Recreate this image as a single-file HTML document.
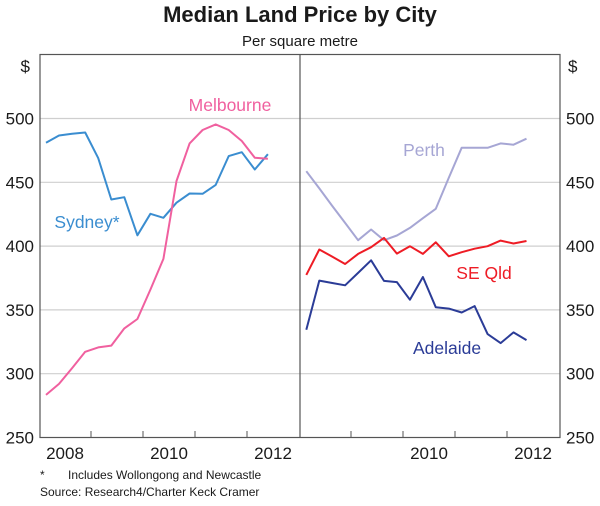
<!DOCTYPE html>
<html><head><meta charset="utf-8"><style>
body{margin:0;background:#fff;}
svg text{font-family:"Liberation Sans",Arial,sans-serif;}
</style></head><body>
<svg id="chart" width="600" height="501" viewBox="0 0 600 501" xmlns="http://www.w3.org/2000/svg">
<text x="300" y="22" text-anchor="middle" font-size="22" font-weight="bold" fill="#1a1a1a">Median Land Price by City</text>
<text x="300" y="46" text-anchor="middle" font-size="15" fill="#1a1a1a">Per square metre</text>
<text x="30" y="72" text-anchor="end" font-size="17" fill="#1a1a1a">$</text>
<text x="568" y="72" font-size="17" fill="#1a1a1a">$</text>
<g id="grid"></g>
<g id="series"></g>
<rect x="40" y="54.5" width="520" height="383" fill="none" stroke="#555" stroke-width="1.2"/>
<line x1="300" y1="54.5" x2="300" y2="437.5" stroke="#555" stroke-width="1.2"/>
<g id="axes"></g>
<text x="230" y="111" text-anchor="middle" font-size="17.5" fill="#f0609f">Melbourne</text>
<text x="87" y="228" text-anchor="middle" font-size="17.5" fill="#3a8dd0">Sydney*</text>
<text x="424" y="156" text-anchor="middle" font-size="17.5" fill="#a6a6d4">Perth</text>
<text x="484" y="279" text-anchor="middle" font-size="17.5" fill="#ee1c25">SE Qld</text>
<text x="447" y="354" text-anchor="middle" font-size="17.5" fill="#2b3c97">Adelaide</text>
<text x="40" y="479" font-size="12" fill="#1a1a1a">*</text>
<text x="68" y="479" font-size="12" fill="#1a1a1a">Includes Wollongong and Newcastle</text>
<text x="40" y="496" font-size="12" fill="#1a1a1a">Source: Research4/Charter Keck Cramer</text>
</svg>
<script>
const yTicks=[250,300,350,400,450,500];
const leftYearLabels=["2008","2010","2012"];
const rightYearLabels=["2010","2012"];
const sydney=[481,486.7,488,489,469,436.5,438.3,408.5,425.3,422.2,434,441.2,441,448,470.5,473.6,460,472];
const melbourne=[283.4,292,304.4,317.2,320.6,322,335.5,342.9,365.9,390,451,480.5,491,495.4,491,482.4,469.3,468.5];
const perth=[458.7,445.2,431.5,418.2,404.6,413,404.6,408.3,414.3,421.9,429.2,453.5,477.1,477,477,480.5,479.5,484.2];
const seqld=[377.4,397.3,391.8,386,393.9,399.1,406.4,394.1,399.9,393.9,403,392,395.2,398,399.9,404.3,402,404];
const adelaide=[334.5,373,371.1,369.3,379,388.9,372.7,371.8,358,375.8,352,351,348,353,331,324,332.4,326.3];
const NS="http://www.w3.org/2000/svg";
function y(v){return 437.5-(v-250)*(63.8/50);}
function xl(i){return 46+i*13.05;}
function xr(i){return 306.3+i*12.95;}
function mk(tag,attrs,parent){const e=document.createElementNS(NS,tag);for(const k in attrs)e.setAttribute(k,attrs[k]);parent.appendChild(e);return e;}
const grid=document.getElementById('grid'),axes=document.getElementById('axes'),ser=document.getElementById('series');
yTicks.forEach(v=>{
  if(v>250){const g=mk('line',{x1:40,x2:560,y1:y(v),y2:y(v),stroke:'#cfcfcf','stroke-width':1.2},grid);
  
  }
  const a=mk('text',{x:34,y:y(v)+6,'text-anchor':'end','font-size':17,fill:'#1a1a1a'},axes);a.textContent=v;
  
  
  const b=mk('text',{x:566,y:y(v)+6,'font-size':17,fill:'#1a1a1a'},axes);b.textContent=v;
  
  
});
[91,143,195,247,351,403,455,507].forEach(tx=>{
  const t=mk('line',{x1:tx,x2:tx,y1:437.5,y2:431,stroke:'#555','stroke-width':1},axes);
  
  
});
leftYearLabels.forEach((s,i)=>{
  const t=mk('text',{x:65+i*104,y:459,'text-anchor':'middle','font-size':17,fill:'#1a1a1a'},axes);t.textContent=s;
  
  
});
rightYearLabels.forEach((s,i)=>{
  const t=mk('text',{x:429+i*104,y:459,'text-anchor':'middle','font-size':17,fill:'#1a1a1a'},axes);t.textContent=s;
  
  
});
function line(data,xf,color,name){
  const p=mk('polyline',{points:data.map((v,i)=>xf(i).toFixed(1)+','+y(v).toFixed(1)).join(' '),fill:'none',stroke:color,'stroke-width':2,'stroke-linejoin':'round'},ser);
  
  
}
line(sydney,xl,'#3a8dd0','sydney-line');
line(melbourne,xl,'#f0609f','melbourne-line');
line(perth,xr,'#a6a6d4','perth-line');
line(seqld,xr,'#ee1c25','se-qld-line');
line(adelaide,xr,'#2b3c97','adelaide-line');
</script>
</body></html>
